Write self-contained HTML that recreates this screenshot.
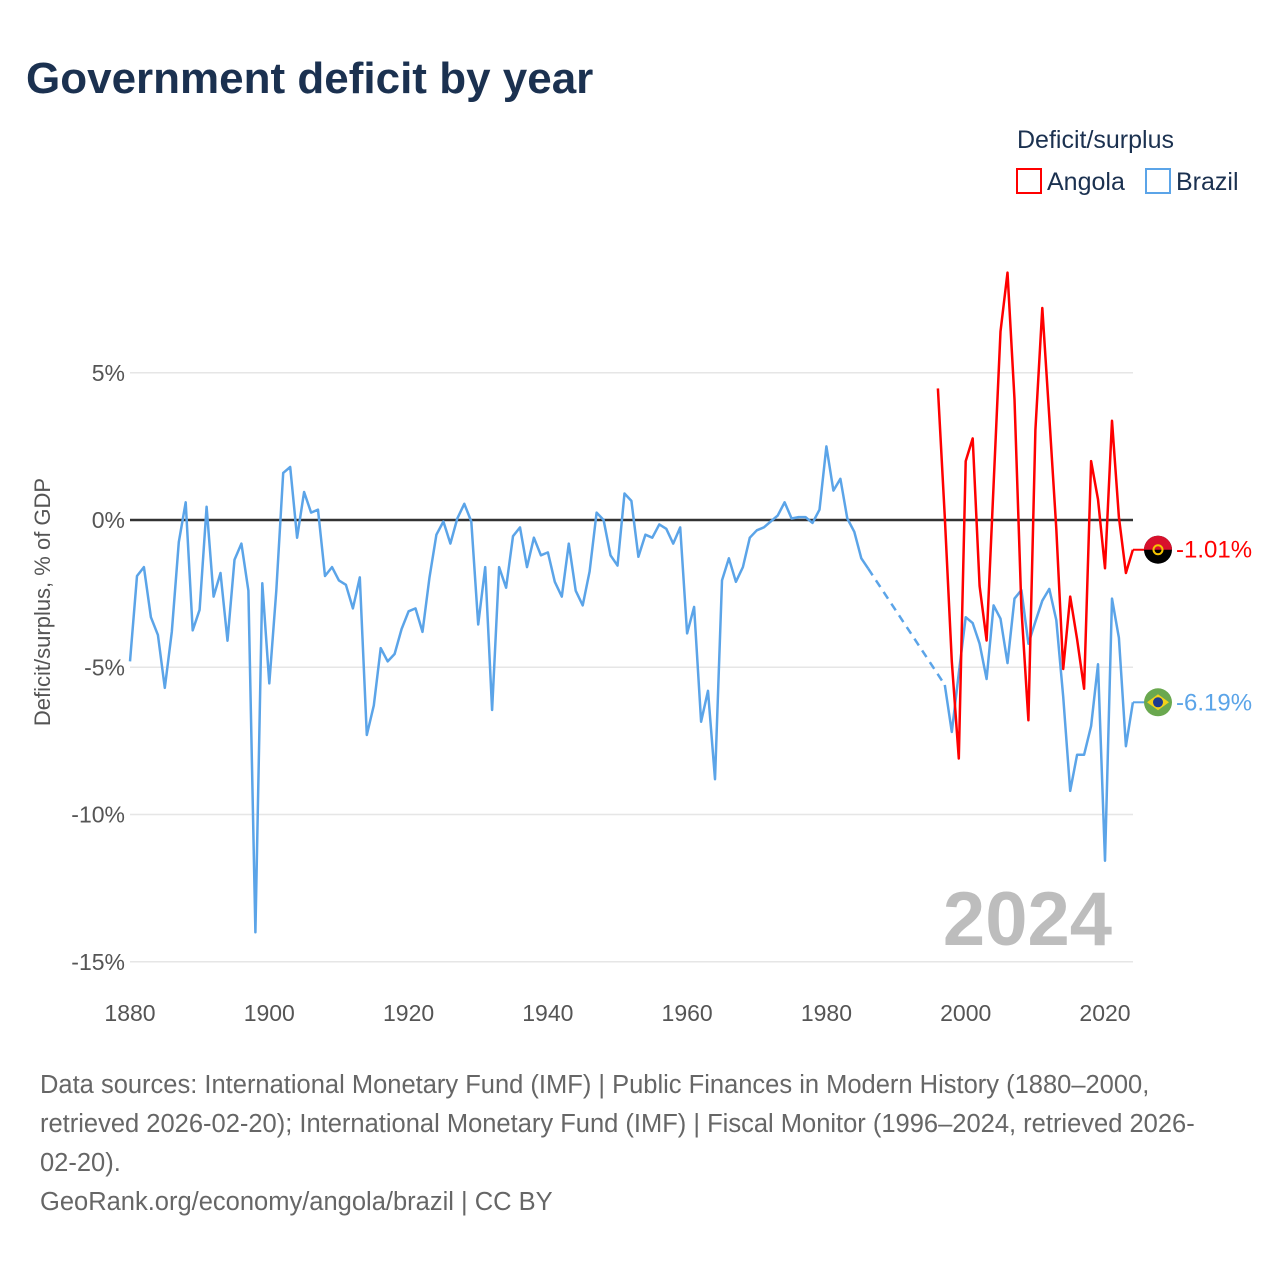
<!DOCTYPE html>
<html><head><meta charset="utf-8"><style>
body{margin:0;background:#fff;}
svg{display:block;font-family:"Liberation Sans",sans-serif;}
</style></head><body>
<svg id="chart" width="1280" height="1280" viewBox="0 0 1280 1280">
<text x="26" y="93" font-size="44" font-weight="bold" fill="#1b3150">Government deficit by year</text>
<text x="1017" y="148" font-size="25" fill="#1b3150">Deficit/surplus</text>
<g><rect x="1017" y="169" width="24" height="24" fill="none" stroke="#f00" stroke-width="2"/><text x="1047" y="190" font-size="25" fill="#1b3150">Angola</text></g>
<g><rect x="1146" y="169" width="24" height="24" fill="none" stroke="#5ba4e8" stroke-width="2"/><text x="1176" y="190" font-size="25" fill="#1b3150">Brazil</text></g>
<text transform="translate(50,602) rotate(-90)" text-anchor="middle" font-size="22" fill="#555">Deficit/surplus, % of GDP</text>
<g id="grid"></g><g id="series"></g>
<text x="1112" y="945" text-anchor="end" font-size="76" font-weight="bold" fill="#bdbdbd">2024</text>
<g font-size="25.5" fill="#666">
<text x="40" y="1093">Data sources: International Monetary Fund (IMF) | Public Finances in Modern History (1880–2000,</text>
<text x="40" y="1132">retrieved 2026-02-20); International Monetary Fund (IMF) | Fiscal Monitor (1996–2024, retrieved 2026-</text>
<text x="40" y="1171">02-20).</text>
<text x="40" y="1210">GeoRank.org/economy/angola/brazil | CC BY</text>
</g>
</svg>
<script>
const yTicks=[5,0,-5,-10,-15];
const xTicks=[1880,1900,1920,1940,1960,1980,2000,2020];
const brazilOldYears=[];for(let y=1880;y<=1986;y++)brazilOldYears.push(y);
const brazilOld=[-4.8,-1.9,-1.6,-3.3,-3.9,-5.7,-3.8,-0.75,0.6,-3.75,-3.05,0.45,-2.6,-1.8,-4.1,-1.35,-0.8,-2.4,-14.0,-2.15,-5.55,-2.4,1.6,1.8,-0.6,0.95,0.25,0.35,-1.9,-1.6,-2.05,-2.2,-3.0,-1.95,-7.3,-6.3,-4.35,-4.8,-4.55,-3.7,-3.1,-3.0,-3.8,-1.95,-0.5,-0.05,-0.8,0.05,0.55,-0.05,-3.55,-1.6,-6.45,-1.6,-2.3,-0.55,-0.25,-1.6,-0.6,-1.2,-1.1,-2.1,-2.6,-0.8,-2.4,-2.9,-1.75,0.25,0.0,-1.2,-1.55,0.9,0.65,-1.25,-0.5,-0.6,-0.15,-0.3,-0.8,-0.25,-3.85,-2.95,-6.85,-5.8,-8.8,-2.05,-1.3,-2.1,-1.6,-0.6,-0.35,-0.25,-0.05,0.15,0.6,0.05,0.1,0.1,-0.1,0.35,2.5,1.0,1.4,0.05,-0.4,-1.3,-1.65];
const brazilNewYears=[];for(let y=1997;y<=2024;y++)brazilNewYears.push(y);
const brazilNew=[-5.6,-7.2,-5.2,-3.3,-3.5,-4.2,-5.4,-2.9,-3.35,-4.86,-2.67,-2.38,-4.2,-3.45,-2.74,-2.34,-3.4,-6.0,-9.2,-7.97,-7.97,-7.0,-4.9,-11.57,-2.67,-4.0,-7.68,-6.19];
const angolaYears=[];for(let y=1996;y<=2024;y++)angolaYears.push(y);
const angola=[4.47,0.1,-4.8,-8.1,2.0,2.77,-2.24,-4.09,1.2,6.4,8.4,4.1,-3.0,-6.8,3.06,7.2,3.5,-0.3,-5.06,-2.6,-4.05,-5.73,2.0,0.7,-1.64,3.37,0.1,-1.8,-1.01];
const NS='http://www.w3.org/2000/svg';
const X0=130,X1=1133;
const xs=yr=>X0+(yr-1880)*(975/140);
const ys=v=>520-v*29.45;
function mk(tag,attrs,parent){const e=document.createElementNS(NS,tag);for(const k in attrs)e.setAttribute(k,attrs[k]);parent.appendChild(e);return e;}
const grid=document.getElementById('grid'),ser=document.getElementById('series');
yTicks.forEach(t=>{
 const l=mk('line',{x1:X0,x2:X1,y1:ys(t),y2:ys(t),stroke:t===0?'#333':'#e6e6e6','stroke-width':t===0?2.5:1.5},grid);
 
 
 const tx=mk('text',{x:125,y:ys(t)+8,'text-anchor':'end','font-size':23,fill:'#555'},grid);
 tx.textContent=t+'%';
 
 
});
xTicks.forEach(t=>{
 const tx=mk('text',{x:xs(t),y:1021,'text-anchor':'middle','font-size':23,fill:'#555'},grid);
 tx.textContent=t;
 
 
});
function path(years,vals){return years.map((y,i)=>(i?'L':'M')+xs(y).toFixed(1)+','+ys(vals[i]).toFixed(1)).join('');}
let p=mk('path',{d:path(brazilOldYears,brazilOld),fill:'none',stroke:'#5ba4e8','stroke-width':2.5,'stroke-linejoin':'round'},ser);


p=mk('path',{d:'M'+xs(1986)+','+ys(brazilOld[brazilOld.length-1])+'L'+xs(1997)+','+ys(brazilNew[0]),fill:'none',stroke:'#5ba4e8','stroke-width':2.5,'stroke-dasharray':'8,6'},ser);


p=mk('path',{d:path(brazilNewYears,brazilNew),fill:'none',stroke:'#5ba4e8','stroke-width':2.5,'stroke-linejoin':'round'},ser);


p=mk('path',{d:path(angolaYears,angola),fill:'none',stroke:'#f00','stroke-width':2.5,'stroke-linejoin':'round'},ser);


function endLabel(val,color,name,flag){
 const y=ys(val);
 const l=mk('line',{x1:X1,x2:1145,y1:y,y2:y,stroke:color,'stroke-width':2},ser);
 
 
 const g=mk('g',{},ser);
 
 
 flag(g,1158,y);
 const t=mk('text',{x:1176,y:y+8,'font-size':24,fill:color},ser);
 t.textContent=val.toFixed(2)+'%';
 
 
}
endLabel(angola[angola.length-1],'#f00','angola',(g,cx,cy)=>{
 mk('circle',{cx:cx,cy:cy,r:14,fill:'#000'},g);
 mk('path',{d:`M${cx-14},${cy}A14,14 0 0 1 ${cx+14},${cy}Z`,fill:'#d8102c'},g);
 mk('circle',{cx:cx,cy:cy,r:4.5,fill:'none',stroke:'#f5c400','stroke-width':2},g);
});
endLabel(brazilNew[brazilNew.length-1],'#5ba4e8','brazil',(g,cx,cy)=>{
 mk('circle',{cx:cx,cy:cy,r:14,fill:'#6aa84f'},g);
 mk('path',{d:`M${cx-11},${cy}L${cx},${cy-8}L${cx+11},${cy}L${cx},${cy+8}Z`,fill:'#f2d11a'},g);
 mk('circle',{cx:cx,cy:cy,r:5,fill:'#1f3c8f'},g);
});
</script>
</body></html>
